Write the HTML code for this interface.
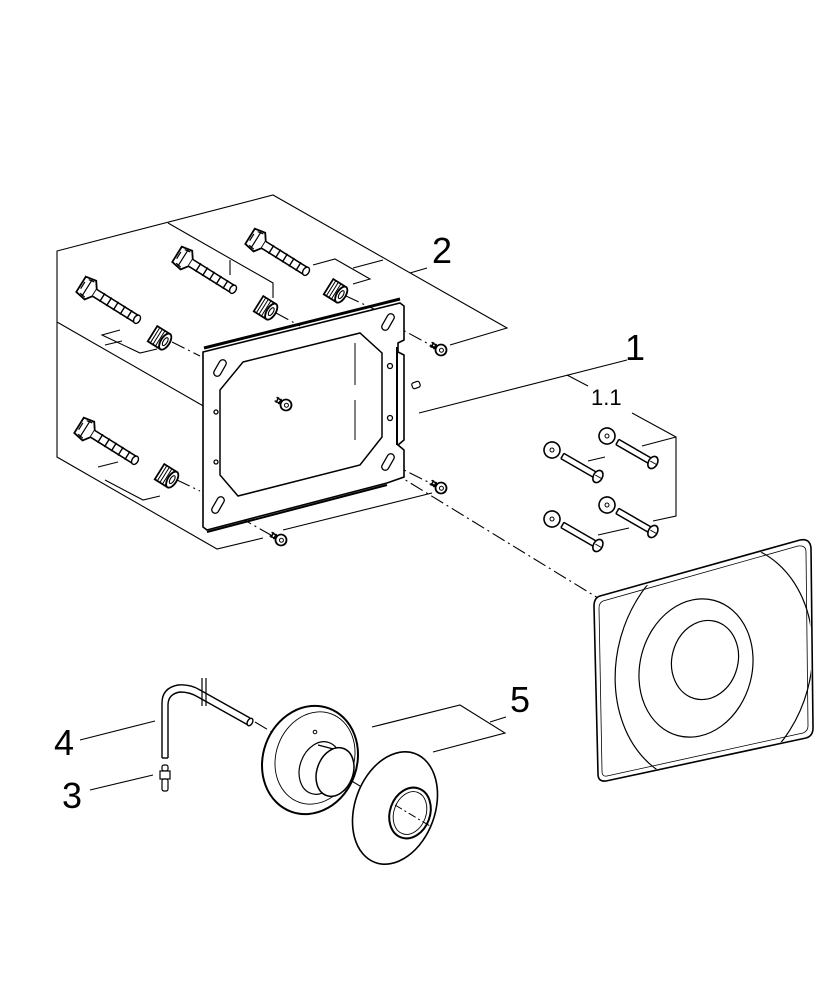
<!DOCTYPE html>
<html><head><meta charset="utf-8"><style>
html,body{margin:0;padding:0;background:#fff;}
svg{display:block;}
text{font-family:"Liberation Sans",sans-serif;fill:#000;}
</style></head><body>
<svg width="833" height="1000" viewBox="0 0 833 1000" xmlns="http://www.w3.org/2000/svg">
<defs>
<g id="anchor">
  <path d="M-7,-9 L4,-11 L9,-4 L9,4 L4,11 L-7,9 Z" fill="#fff" stroke="#000" stroke-width="1.8"/>
  <path d="M-3,-8 L3,-9 M-3,8 L3,9 M0,-10 L0,10 M-5,-4 L-5,4" stroke="#000" stroke-width="1.2"/>
  <path d="M9,-4 L58,-4 L58,4 L9,4" fill="#fff" stroke="#000" stroke-width="1.6"/>
  <path d="M18,-5 L18,5 M26,-5 L26,5 M34,-5 L34,5 M42,-5 L42,5 M50,-5 L50,5" stroke="#000" stroke-width="1.4"/>
  <ellipse cx="59" cy="0" rx="3" ry="4.5" fill="#fff" stroke="#000" stroke-width="1.4"/>
</g>
<g id="nut">
  <path d="M-10,-9 L5,-9 L5,9 L-10,9 Z" fill="#fff" stroke="#000" stroke-width="1.8"/>
  <path d="M-7,-9 L-7,9 M-4,-9 L-4,9 M-1,-9 L-1,9 M2,-9 L2,9" stroke="#000" stroke-width="1"/>
  <ellipse cx="5" cy="0" rx="4.5" ry="9" fill="#fff" stroke="#000" stroke-width="1.8"/>
  <ellipse cx="5" cy="0" rx="2" ry="4.5" fill="none" stroke="#000" stroke-width="1.1"/>
</g>
<g id="screw">
  <path d="M-12,-2 L-3,-1.5 M-12,2 L-3,1.5 M-10,-3 L-10,3 M-7,-3 L-7,3" stroke="#000" stroke-width="1.4"/>
  <circle cx="0" cy="0" r="5.5" fill="#fff" stroke="#000" stroke-width="1.8"/>
  <circle cx="0.5" cy="0" r="2" fill="none" stroke="#000" stroke-width="1"/>
</g>
<g id="bolt">
  <circle cx="0" cy="0" r="8" fill="#fff" stroke="#000" stroke-width="1.6"/>
  <circle cx="0" cy="0" r="2" fill="none" stroke="#000" stroke-width="1"/>
  <path d="M12,-3 L50,-3 M12,3 L50,3 M12,-3 L12,3" stroke="#000" stroke-width="1.5" fill="none"/>
  <ellipse cx="53" cy="0" rx="4.5" ry="6.5" fill="#fff" stroke="#000" stroke-width="1.6"/>
  <path d="M50,0 L57,0" stroke="#000" stroke-width="1"/>
</g>
</defs>

<g stroke="#000" stroke-width="1.1" fill="none">
  <polyline points="57,322 57,251 273,195 507,328 450,345"/>
  <polyline points="57,322 57,457 217,549 263,538"/>
  <line x1="283" y1="530" x2="432" y2="493"/>
  <polyline points="57,322 233,423 273,414"/>
  <polyline points="168,223 273,283 273,298"/>
  <line x1="230" y1="260" x2="230" y2="275"/>
  <polyline points="313,265 335,259 370,279 353,284"/>
  <line x1="353" y1="268" x2="383" y2="260"/>
  <line x1="410" y1="273" x2="427" y2="268"/>
  <polyline points="120,330 102,335 140,353 157,349"/>
  <polyline points="105,345 122,341"/>
  <polyline points="98,467 118,462"/>
  <polyline points="105,480 143,500 160,496"/>
  <line x1="419" y1="413" x2="627" y2="360"/>
  <line x1="567" y1="375" x2="588" y2="386"/>
  <polyline points="632,413 676,437 676,516 653,521"/>
  <line x1="676" y1="437" x2="642" y2="446"/>
  <line x1="588" y1="461" x2="605" y2="457"/>
  <line x1="598" y1="535" x2="629" y2="528"/>
  <g stroke-dasharray="14,4,2,4">
    <line x1="172" y1="342" x2="200" y2="356"/>
    <line x1="276" y1="313" x2="300" y2="326"/>
    <line x1="346" y1="296" x2="376" y2="310"/>
    <line x1="177" y1="480" x2="200" y2="491"/>
    <line x1="220" y1="368" x2="282" y2="404"/>
    <line x1="288" y1="408" x2="598" y2="598"/>
    <line x1="388" y1="322" x2="436" y2="348"/>
    <line x1="388" y1="462" x2="436" y2="486"/>
    <line x1="218" y1="505" x2="276" y2="538"/>
    <line x1="255" y1="722" x2="275" y2="734"/>
    <line x1="330" y1="768" x2="420" y2="822"/>
  </g>
</g>

<g transform="translate(87,288) rotate(32)"><use href="#anchor"/></g>
<g transform="translate(183,258) rotate(32)"><use href="#anchor"/></g>
<g transform="translate(256,240) rotate(32)"><use href="#anchor"/></g>
<g transform="translate(85,429) rotate(32)"><use href="#anchor"/></g>
<g transform="translate(161,339) rotate(32)"><use href="#nut"/></g>
<g transform="translate(267,309) rotate(32)"><use href="#nut"/></g>
<g transform="translate(337,292) rotate(32)"><use href="#nut"/></g>
<g transform="translate(168,477) rotate(32)"><use href="#nut"/></g>

<g stroke="#000" fill="none">
  <path d="M203,352 L400,303 L404,306 L404,340 L398,343 L398,352 L404,355 L404,440 L398,445 L404,450 L404,477 L387,483 L207,530 L203,527 Z" fill="#fff" stroke-width="1.6"/>
  <path d="M204,348 L400,299" stroke-width="3"/>
  <path d="M207,532 L387,485" stroke-width="2"/>
  <path d="M397,347 L397,445" stroke-width="2"/>
  <path d="M243,362 L360,333 L382,353 L382,437 L360,465 L238,496 L220,475 L220,390 Z" stroke-width="1.5"/>
  <g stroke-width="1.3" fill="#fff">
    <rect x="-3.5" y="-9" width="7" height="18" rx="3.5" transform="translate(220,368) rotate(30)"/>
    <rect x="-3.5" y="-9" width="7" height="18" rx="3.5" transform="translate(388,322) rotate(30)"/>
    <rect x="-3.5" y="-9" width="7" height="18" rx="3.5" transform="translate(388,462) rotate(30)"/>
    <rect x="-3.5" y="-9" width="7" height="18" rx="3.5" transform="translate(218,505) rotate(30)"/>
    <circle cx="390" cy="366" r="2.5"/><circle cx="390" cy="418" r="2.5"/>
    <circle cx="216" cy="412" r="2"/><circle cx="216" cy="462" r="2"/>
  </g>
  <path d="M355,343 L355,385 M355,400 L355,440" stroke-width="1"/>
  <g transform="translate(416,385) rotate(-20)"><rect x="-4" y="-3" width="8" height="6" rx="2" fill="#fff" stroke-width="1.2"/></g>
</g>
<g transform="translate(286,405) rotate(30)"><use href="#screw"/></g>
<g transform="translate(441,350) rotate(30)"><use href="#screw"/></g>
<g transform="translate(441,488) rotate(30)"><use href="#screw"/></g>
<g transform="translate(281,540) rotate(30)"><use href="#screw"/></g>

<g transform="translate(607,436) rotate(30)"><use href="#bolt"/></g>
<g transform="translate(552,450) rotate(30)"><use href="#bolt"/></g>
<g transform="translate(607,505) rotate(30)"><use href="#bolt"/></g>
<g transform="translate(552,519) rotate(30)"><use href="#bolt"/></g>

<defs><clipPath id="pc"><path d="M603,598 L800,541 Q808,540 809,548 L812,728 Q812,735 805,737 L606,780 Q599,781 599,773 L596,606 Q596,600 603,598 Z"/></clipPath></defs>
<path d="M600,596 L800,540 Q810,538 811,548 L813,728 Q813,736 806,738 L606,781 Q598,782 598,774 L594,606 Q594,598 600,596 Z" fill="#fff" stroke="#000" stroke-width="1.6"/>
<path d="M603,601 L798,546 Q806,545 806,552 L808,726 Q808,731 803,733 L607,776 Q602,777 602,771 L599,608 Q599,603 603,601 Z" fill="none" stroke="#000" stroke-width="0.8"/>
<g clip-path="url(#pc)" fill="none" stroke="#000" stroke-width="1.2">
  <ellipse cx="714" cy="664" rx="97" ry="122" transform="rotate(15 714 664)"/>
  <ellipse cx="696" cy="668" rx="56" ry="70" transform="rotate(15 696 668)"/>
  <ellipse cx="705" cy="660" rx="33" ry="40" transform="rotate(15 705 660)"/>
</g>

<g fill="none" stroke="#000" stroke-width="1.4">
  <path d="M162,758 L162,703 Q162,688 178,685 Q190,684 200,690 L250,718"/>
  <path d="M168,758 L168,705 Q168,694 180,692 Q190,692 198,697 L248,725"/>
  <path d="M162,758 L168,758"/>
  <ellipse cx="250" cy="722" rx="2.5" ry="4" transform="rotate(30 250 722)" fill="#fff"/>
  <path d="M202,678 L202,706 M206,678 L206,706" stroke-width="1.2"/>
</g>
<g fill="#fff" stroke="#000" stroke-width="1.2">
  <rect x="162" y="765" width="6" height="6" rx="2"/>
  <rect x="160" y="771" width="10" height="8"/>
  <rect x="162" y="779" width="6" height="12" rx="2"/>
</g>
<g fill="#fff" stroke="#000">
  <ellipse cx="310" cy="760" rx="47" ry="55" transform="rotate(20 310 760)" stroke-width="2"/>
  <ellipse cx="315" cy="758" rx="39" ry="47" transform="rotate(20 315 758)" stroke-width="0.9" fill="none"/>
  <ellipse cx="320" cy="768" rx="20" ry="27" transform="rotate(20 320 768)" stroke-width="1.2"/>
  <path d="M318,745 L345,752 L345,790 L325,794" stroke-width="1.2"/>
  <ellipse cx="335" cy="772" rx="18" ry="25" transform="rotate(20 335 772)" stroke-width="1.5"/>
  <circle cx="315" cy="732" r="1.8" stroke-width="1"/>
</g>
<g fill="#fff" stroke="#000">
  <ellipse cx="395" cy="808" rx="40" ry="58" transform="rotate(20 395 808)" stroke-width="1.6"/>
  <ellipse cx="410" cy="813" rx="20" ry="26" transform="rotate(20 410 813)" stroke-width="2"/>
  <ellipse cx="410" cy="813" rx="16" ry="22" transform="rotate(20 410 813)" stroke-width="0.9" fill="none"/>
  <line x1="395" y1="805" x2="430" y2="826" stroke-width="1" stroke-dasharray="8,3,2,3"/>
</g>
<g fill="none" stroke="#000" stroke-width="1.1">
  <polyline points="372,727 460,705 505,733 433,752"/>
  <line x1="490" y1="722" x2="506" y2="717"/>
  <line x1="80" y1="740" x2="155" y2="721"/>
  <line x1="90" y1="790" x2="153" y2="775"/>
</g>

<text x="432" y="263" font-size="36">2</text>
<text x="625" y="360" font-size="36">1</text>
<text x="591" y="405" font-size="22">1.1</text>
<text x="510" y="712" font-size="36">5</text>
<text x="54" y="755" font-size="36">4</text>
<text x="62" y="808" font-size="36">3</text>
</svg>
</body></html>
